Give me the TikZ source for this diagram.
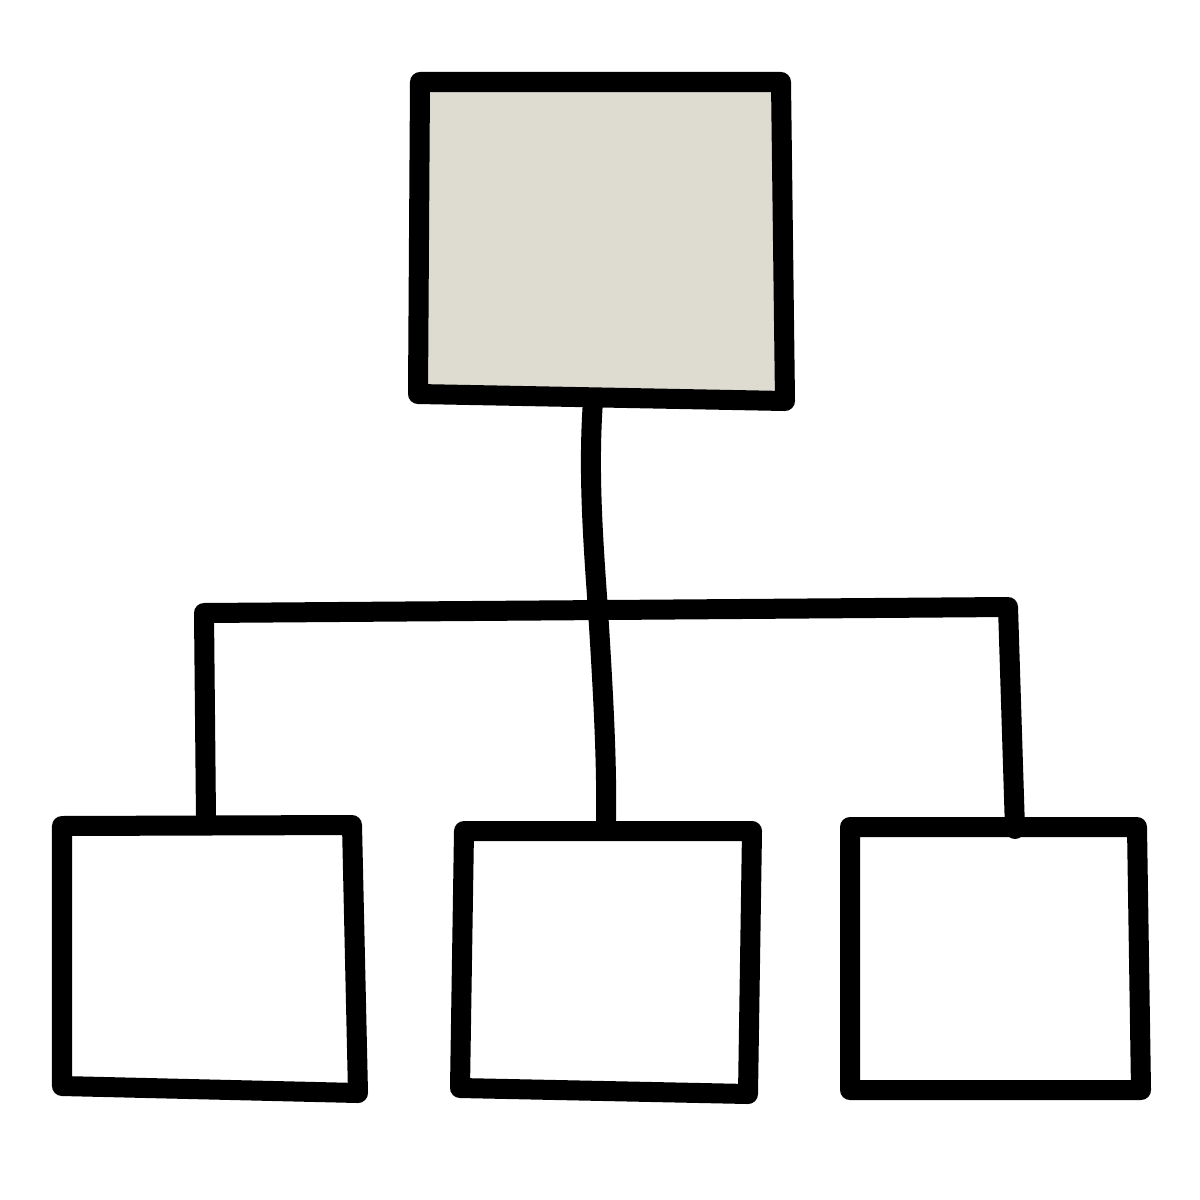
\documentclass[tikz,border=0pt]{standalone}
\usepackage{tikz}
\usetikzlibrary{calc, positioning}
\definecolor{boxgray}{HTML}{DEDCD1}
\tikzset{
  box/.style={draw=black, line width=0.2cm, line join=round, line cap=round},
  link/.style={draw=black, line width=0.2cm, line join=round, line cap=round}
}
\begin{document}
\begin{tikzpicture}[x=0.01cm, y=-0.01cm]
          \useasboundingbox (0,0) rectangle (1200,1200);
          % Top box
          \draw[box, fill=boxgray] (420,82) -- (781,82) -- (785,401) -- (418,394) -- cycle;
          \coordinate (topout) at (593,401);
          % Bottom boxes
          \draw[box, fill=white] (62,826) -- (352,825) -- (358,1093) -- (62,1086) -- cycle;
          \draw[box, fill=white] (464,831) -- (752,831) -- (748,1094) -- (460,1088) -- cycle;
          \draw[box, fill=white] (850,827) -- (1137,827) -- (1141,1090) -- (850,1090) -- cycle;
          \coordinate (leftin) at (206,819);
          \coordinate (midin) at (606,820);
          \coordinate (rightin) at (1015,829);
          % Bar
          \coordinate (barleft) at (204,613);
          \coordinate (barright) at (1008,607);
          \draw[link] (leftin) -- (barleft) -- (barright) -- (rightin);
          % Trunk
          \draw[link] (topout) .. controls (588,470) and (593,540) .. (598,610)
                      .. controls (603,690) and (607,760) .. (midin);
        \end{tikzpicture}
\end{document}
